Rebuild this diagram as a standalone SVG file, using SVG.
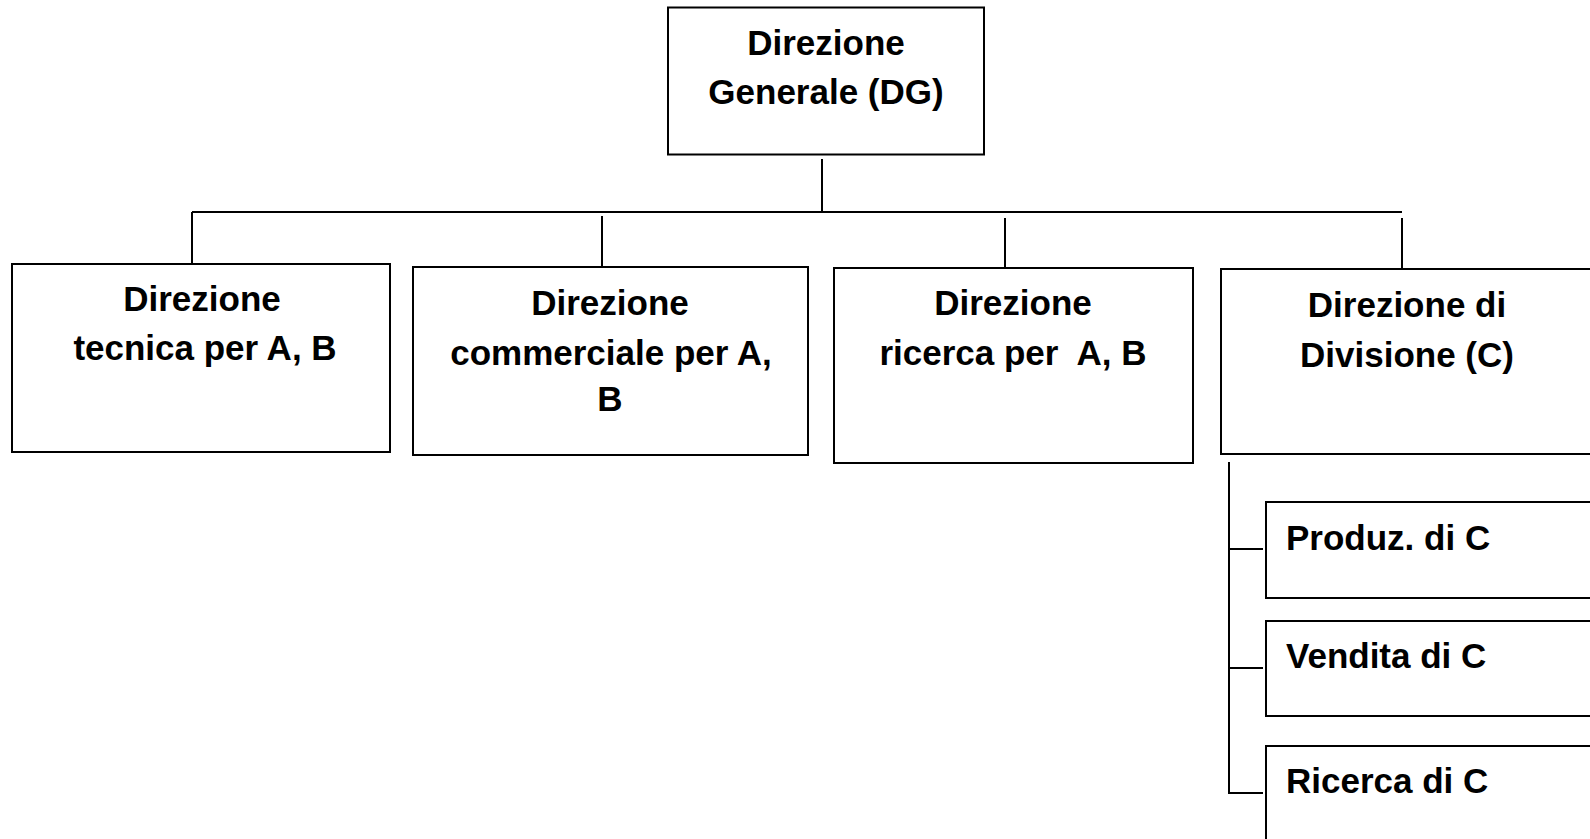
<svg xmlns="http://www.w3.org/2000/svg" width="1590" height="839" viewBox="0 0 1590 839">
<style>
.box{fill:#fff;stroke:#000;stroke-width:2}
.ln{stroke:#000;stroke-width:2;fill:none}
.t{font-family:"Liberation Sans",Arial,sans-serif;font-weight:bold;font-size:35px;fill:#000;text-anchor:middle}
.tl{font-family:"Liberation Sans",Arial,sans-serif;font-weight:bold;font-size:35px;fill:#000}
</style>
<rect width="1590" height="839" fill="#fff"/>
<g id="connectors">
<line class="ln" x1="822" y1="159" x2="822" y2="212"/>
<line class="ln" x1="192" y1="212" x2="1402" y2="212"/>
<line class="ln" x1="192" y1="212" x2="192" y2="264"/>
<line class="ln" x1="602" y1="216" x2="602" y2="267"/>
<line class="ln" x1="1005" y1="218" x2="1005" y2="268"/>
<line class="ln" x1="1402" y1="218" x2="1402" y2="269"/>
<polyline class="ln" points="1229,462 1229,793 1263,793"/>
<line class="ln" x1="1229" y1="549" x2="1263" y2="549"/>
<line class="ln" x1="1229" y1="668" x2="1263" y2="668"/>
</g>
<g id="dg">
<rect class="box" x="668" y="7.5" width="316" height="147"/>
<text class="t" x="826" y="55">Direzione</text>
<text class="t" x="826" y="104">Generale (DG)</text>
</g>
<g id="tecnica">
<rect class="box" x="12" y="264" width="378" height="188"/>
<text class="t" x="202" y="311">Direzione</text>
<text class="t" x="205" y="360">tecnica per A, B</text>
</g>
<g id="commerciale">
<rect class="box" x="413" y="267" width="395" height="188"/>
<text class="t" x="610" y="315">Direzione</text>
<text class="t" x="611" y="365">commerciale per A,</text>
<text class="t" x="610" y="411">B</text>
</g>
<g id="ricerca">
<rect class="box" x="834" y="268" width="359" height="195"/>
<text class="t" x="1013" y="315">Direzione</text>
<text class="t" x="1013" y="365" xml:space="preserve">ricerca per  A, B</text>
</g>
<g id="divisione">
<rect class="box" x="1221" y="269" width="380" height="185"/>
<text class="t" x="1407" y="317">Direzione di</text>
<text class="t" x="1407" y="367">Divisione (C)</text>
</g>
<g id="produz">
<rect class="box" x="1266" y="502" width="340" height="96"/>
<text class="tl" x="1286" y="550">Produz. di C</text>
</g>
<g id="vendita">
<rect class="box" x="1266" y="621" width="340" height="95"/>
<text class="tl" x="1286" y="668">Vendita di C</text>
</g>
<g id="ricercaC">
<rect class="box" x="1266" y="746" width="340" height="110"/>
<text class="tl" x="1286" y="793">Ricerca di C</text>
</g>
</svg>
